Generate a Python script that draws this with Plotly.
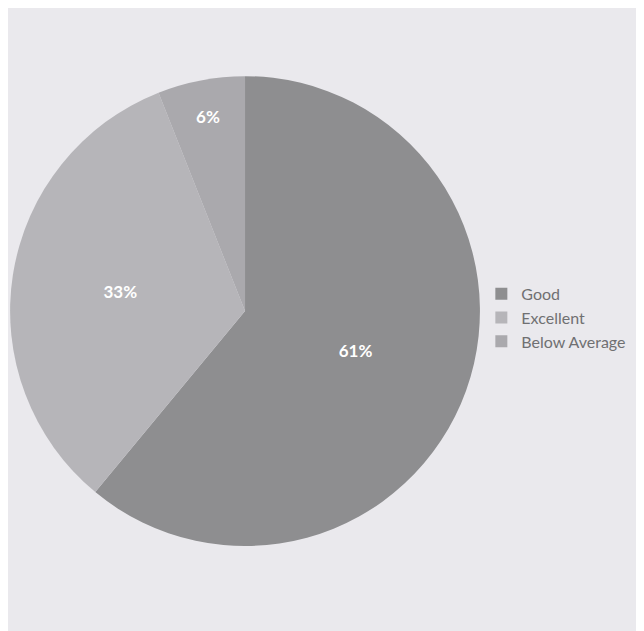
import plotly.graph_objects as go

labels = ["Good", "Excellent", "Below Average"]
values = [61, 33, 6]
colors = ["#8e8e90", "#b6b5b9", "#aaa9ad"]

fig = go.Figure(go.Pie(
    labels=labels,
    values=values,
    sort=False,
    direction="clockwise",
    rotation=0,
    marker=dict(colors=colors, line=dict(width=0)),
    textinfo="percent",
    texttemplate="<b>%{percent:.0%}</b>",
    textposition="inside",
    insidetextorientation="horizontal",
    textfont=dict(family="Lato", size=17, color="#ffffff"),
    domain=dict(x=[0.0031, 0.733], y=[0.1474, 0.892]),
))

fig.update_layout(
    width=644, height=631,
    margin=dict(l=0, r=0, t=0, b=0),
    paper_bgcolor="#eae9ed",
    plot_bgcolor="#eae9ed",
    legend=dict(
        x=0.735, y=0.509, xanchor="left", yanchor="middle",
        font=dict(family="Lato", size=16, color="#707072"),
        bgcolor="rgba(0,0,0,0)",
        tracegroupgap=0,
    ),
)

fig.write_html("out.html")
